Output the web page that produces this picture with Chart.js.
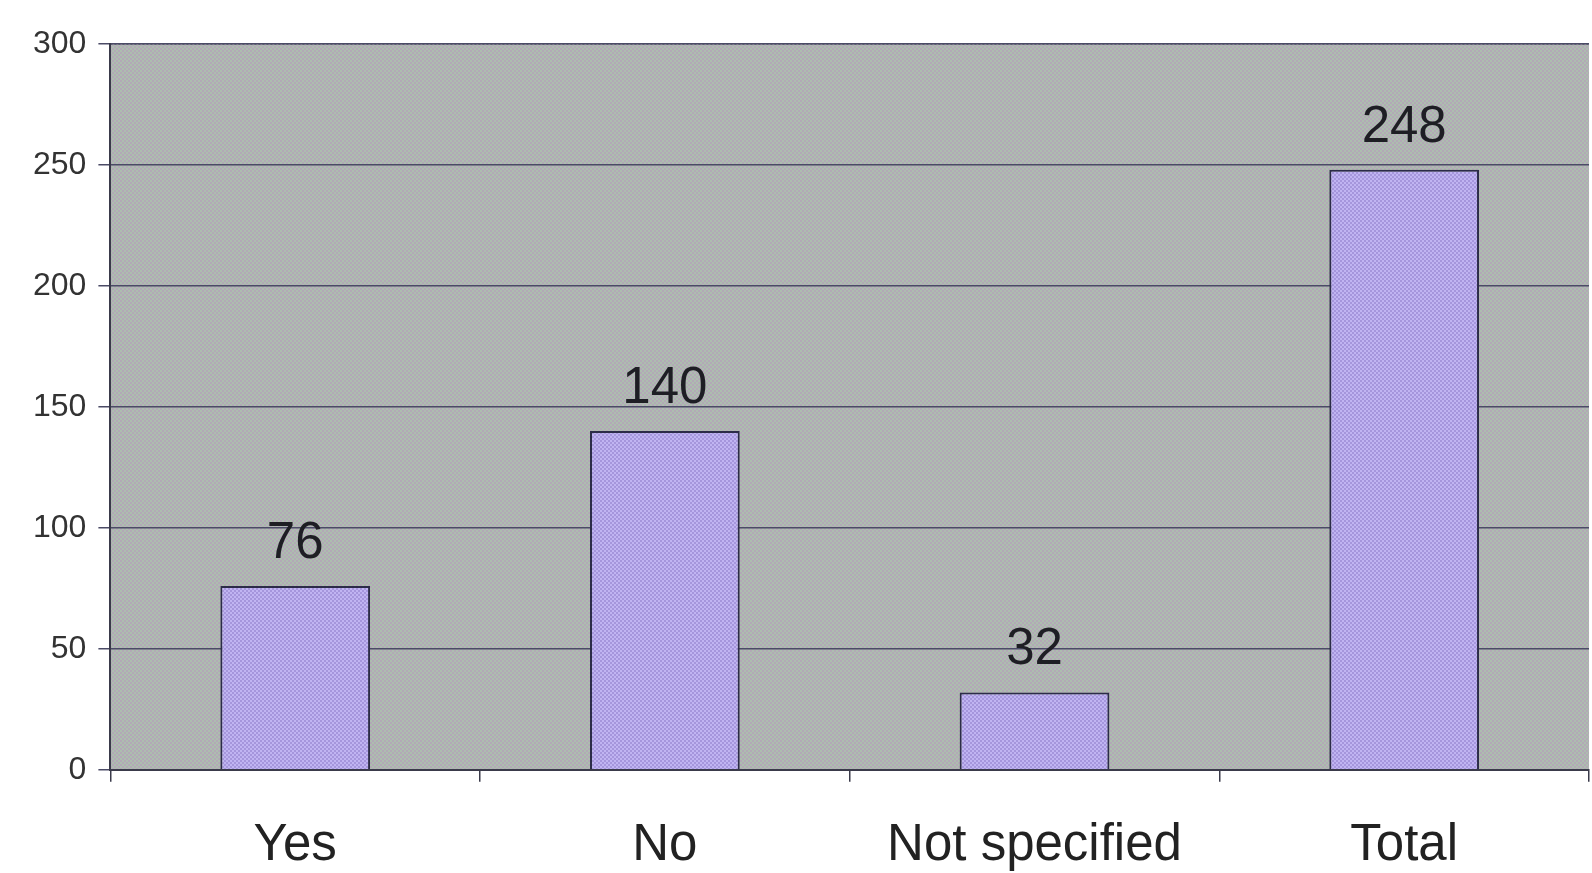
<!DOCTYPE html>
<html>
<head>
<meta charset="utf-8">
<script src="https://cdn.jsdelivr.net/npm/chart.js@4"></script>
<style>
  html, body { margin: 0; padding: 0; background: #ffffff; }
  #wrap { width: 1592px; height: 873px; }
</style>
</head>
<body>
<div id="wrap"><canvas id="chart" width="1592" height="873"></canvas></div>
<script>
// data
const categories = ['Yes', 'No', 'Not specified', 'Total'];
const counts = [76, 140, 32, 248];
const yTicks = [0, 50, 100, 150, 200, 250, 300];

const fontFam = '"Liberation Sans", Arial, sans-serif';

// small tiled textures, like the printed fill
function makePattern(base, dot, size) {
    const c = document.createElement('canvas');
    c.width = size; c.height = size;
    const g = c.getContext('2d');
    g.fillStyle = base;
    g.fillRect(0, 0, size, size);
    g.fillStyle = dot;
    for (let y = 0; y < size; y += 2) {
        for (let x = (y / 2) % 2 === 0 ? 0 : 2; x < size; x += 4) {
            g.fillRect(x, y, 2, 2);
        }
    }
    return g.createPattern(c, 'repeat');
}

const plotFill = makePattern('#adbdaf', '#b2a9b6', 8);
const barFill = makePattern('#c0b4f2', '#a596dc', 8);

// fill plot area with grey background
const plotBg = {
    id: 'plotBg',
    beforeDraw(chart) {
        const { ctx, chartArea: a } = chart;
        ctx.save();
        ctx.fillStyle = plotFill;
        ctx.fillRect(a.left, a.top, a.right - a.left, a.bottom - a.top);
        ctx.strokeStyle = '#55556a';
        ctx.lineWidth = 1.5;
        ctx.setLineDash([2, 2]);
        ctx.beginPath();
        ctx.moveTo(a.left, a.top);
        ctx.lineTo(a.right, a.top);
        ctx.stroke();
        ctx.restore();
    }
};

// numbers above the bars
const valueLabels = {
    id: 'valueLabels',
    afterDatasetsDraw(chart) {
        const { ctx } = chart;
        const meta = chart.getDatasetMeta(0);
        ctx.save();
        ctx.fillStyle = '#1e1e24';
        ctx.font = '51px ' + fontFam;
        ctx.textAlign = 'center';
        ctx.textBaseline = 'alphabetic';
        meta.data.forEach((bar, i) => {
            ctx.fillText(String(counts[i]), bar.x, bar.y - 28);
        });
        ctx.restore();
    }
};

new Chart(document.getElementById('chart'), {
    type: 'bar',
    data: {
        labels: categories,
        datasets: [{
            data: counts,
            backgroundColor: barFill,
            borderColor: '#2c2c48',
            borderWidth: 2,
            barPercentage: 0.81,
            categoryPercentage: 0.5
        }]
    },
    options: {
        responsive: false,
        animation: false,
        layout: { padding: { top: 44, right: 3, left: 21, bottom: -38 } },
        plugins: {
            legend: { display: false },
            tooltip: { enabled: false }
        },
        scales: {
            x: {
                offset: true,
                grid: {
                    offset: true,
                    drawOnChartArea: false,
                    drawTicks: true,
                    tickLength: 12,
                    color: '#3a3a4a',
                    lineWidth: 1.5
                },
                border: { color: '#3a3a4a', width: 2 },
                ticks: {
                    color: '#222',
                    padding: 34,
                    font: { size: 51, family: fontFam }
                }
            },
            y: {
                min: 0,
                max: 300,
                afterBuildTicks(axis) {
                    axis.ticks = yTicks.map(v => ({ value: v }));
                },
                grid: {
                    color: '#4b4b66',
                    lineWidth: 1.5,
                    tickLength: 12
                },
                border: { color: '#3a3a4a', width: 2 },
                ticks: {
                    color: '#333',
                    padding: 12,
                    font: { size: 32, family: fontFam }
                }
            }
        }
    },
    plugins: [plotBg, valueLabels]
});
</script>
</body>
</html>
